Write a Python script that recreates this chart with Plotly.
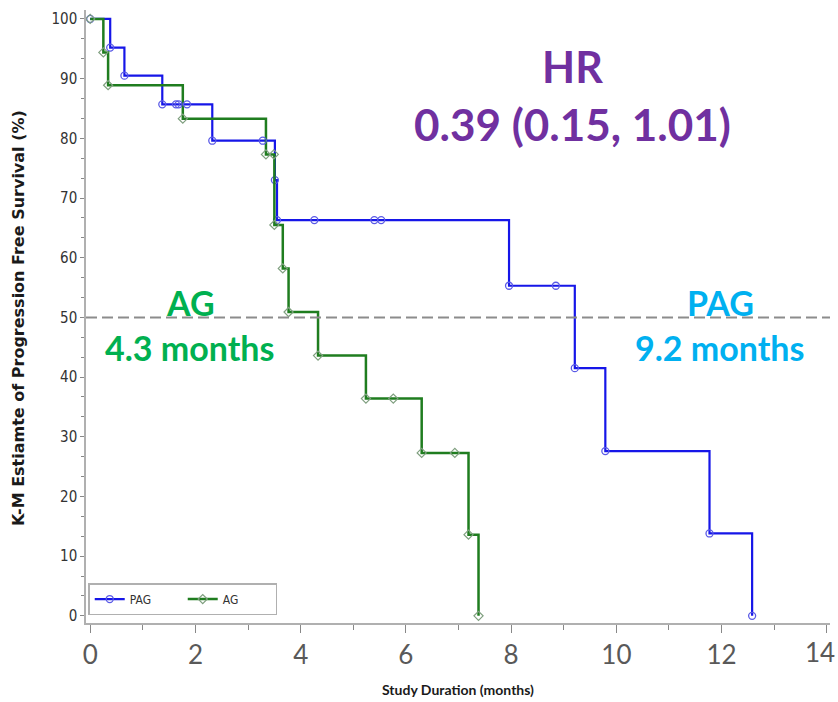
import plotly.graph_objects as go

# PAG arm: event times (months) and KM survival (%)
pag_time = [0, 0.38, 0.65, 1.37, 2.32, 3.51, 3.55, 7.96, 9.21, 9.79, 11.77, 12.58]
pag_surv = [100, 95.2, 90.5, 85.7, 79.6, 73.0, 66.3, 55.3, 41.5, 27.6, 13.8, 0]
pag_cens_time = [1.63, 1.68, 1.84, 3.28, 4.26, 5.40, 5.53, 8.85]
pag_cens_surv = [85.7, 85.7, 85.7, 79.6, 66.3, 66.3, 66.3, 55.3]

# AG arm
ag_time = [0, 0.25, 0.34, 1.76, 3.34, 3.50, 3.66, 3.77, 4.33, 5.24, 6.30, 7.19, 7.38]
ag_surv = [100, 94.4, 88.9, 83.3, 77.3, 65.5, 58.2, 50.9, 43.6, 36.4, 27.3, 13.6, 0]
ag_cens_time = [3.49, 5.76, 6.93]
ag_cens_surv = [77.3, 36.4, 27.3]

median_level = 50
x_ticks = [0, 2, 4, 6, 8, 10, 12, 14]
x_tick_text = ["0", "2", "4", "6", "8", "10", "12", ""]
x_last_label = "14"  # drawn flush against the right edge, as in the original
y_ticks = [0, 10, 20, 30, 40, 50, 60, 70, 80, 90, 100]

BLUE = "#1616e8"
BLUE_M = "#5a5ae6"
GREEN = "#1f7d1f"
GREEN_M = "#7f9f7f"

fig = go.Figure()

fig.add_trace(go.Scatter(
    x=pag_time, y=pag_surv, mode="lines+markers", name="PAG",
    line=dict(color=BLUE, width=2.2, shape="hv"),
    marker=dict(symbol="circle-open", size=7, color=BLUE_M, line=dict(width=1.3)),
))
fig.add_trace(go.Scatter(
    x=ag_time, y=ag_surv, mode="lines+markers", name="AG",
    line=dict(color=GREEN, width=2.5, shape="hv"),
    marker=dict(symbol="diamond-open", size=7, color=GREEN_M, line=dict(width=1.2)),
))
fig.add_trace(go.Scatter(
    x=pag_cens_time, y=pag_cens_surv, mode="markers", showlegend=False,
    marker=dict(symbol="circle-open", size=7, color=BLUE_M, line=dict(width=1.3)),
))
fig.add_trace(go.Scatter(
    x=ag_cens_time, y=ag_cens_surv, mode="markers", showlegend=False,
    marker=dict(symbol="diamond-open", size=7, color=GREEN_M, line=dict(width=1.2)),
))

fig.add_hline(y=median_level, line=dict(color="#8c8c8c", width=2, dash="11px,5px"))

ann = [
    dict(x=9.16, y=92.0, text="<b>HR</b>", color="#7030A0", size=43),
    dict(x=9.16, y=82.4, text="<b>0.39 (0.15, 1.01)</b>", color="#7030A0", size=44),
    dict(x=1.90, y=52.5, text="<b>AG</b>", color="#00B050", size=34),
    dict(x=1.90, y=44.9, text="<b>4.3 months</b>", color="#00B050", size=34),
    dict(x=11.97, y=52.5, text="<b>PAG</b>", color="#00B0F0", size=34),
    dict(x=11.97, y=44.9, text="<b>9.2 months</b>", color="#00B0F0", size=34),
]
for a in ann:
    fig.add_annotation(x=a["x"], y=a["y"], xref="x", yref="y", text=a["text"],
                       showarrow=False, xanchor="center", yanchor="middle",
                       font=dict(family="Lato, sans-serif", size=a["size"], color=a["color"]))

fig.add_annotation(x=x_ticks[-1], y=(623 - 652) / 613, xref="x", yref="paper",
                   text=x_last_label, showarrow=False, xanchor="right", yanchor="middle",
                   xshift=10, font=dict(family="Lato, sans-serif", size=26, color="#595959"))

fig.add_annotation(x=(18 - 86) / 744, y=(623 - 318) / 613, xref="paper", yref="paper",
                   text="<b>K-M Estiamte of Progression Free Survival (%)</b>",
                   textangle=-90, showarrow=False, xanchor="center", yanchor="middle",
                   font=dict(family="DejaVu Sans, sans-serif", size=16, color="#1a1a1a"))
fig.add_annotation(x=(458 - 86) / 744, y=(623 - 689) / 613, xref="paper", yref="paper",
                   text="<b>Study Duration (months)</b>",
                   showarrow=False, xanchor="center", yanchor="middle",
                   font=dict(family="Lato, sans-serif", size=14, color="#1a1a1a"))

fig.update_layout(
    width=838, height=702,
    margin=dict(l=86, r=8, t=10, b=79, autoexpand=False),
    paper_bgcolor="white", plot_bgcolor="white",
    showlegend=True,
    legend=dict(
        x=0.003, y=0.013, xanchor="left", yanchor="bottom",
        orientation="h", bgcolor="white", bordercolor="#b0b0b0", borderwidth=1.5,
        font=dict(family="DejaVu Sans Condensed, sans-serif", size=12, color="#333333"),
        entrywidth=48, entrywidthmode="pixels",
    ),
    xaxis=dict(
        range=[-0.08, 14.06], tickvals=x_ticks, ticktext=x_tick_text,
        showgrid=False, zeroline=False,
        showline=True, linecolor="#b0b0b0", linewidth=1.5,
        ticks="outside", ticklen=8, tickcolor="#888888", tickwidth=1.3,
        minor=dict(dtick=1, ticks="outside", ticklen=5, tickcolor="#888888"),
        tickfont=dict(family="Lato, sans-serif", size=26, color="#595959"),
        automargin=False,
    ),
    yaxis=dict(
        range=[-1.2, 101.5], tickvals=y_ticks, showgrid=False, zeroline=False,
        showline=True, linecolor="#b0b0b0", linewidth=1.5,
        ticks="outside", ticklen=4, tickcolor="#888888",
        minor=dict(dtick=10 / 3, ticks="outside", ticklen=3, tickcolor="#888888"),
        tickfont=dict(family="DejaVu Sans Condensed, sans-serif", size=15, color="#333333"),
        automargin=False,
    ),
)

fig.write_html("out.html", config={"displayModeBar": False},
               post_script="document.body.style.margin='0px';")
